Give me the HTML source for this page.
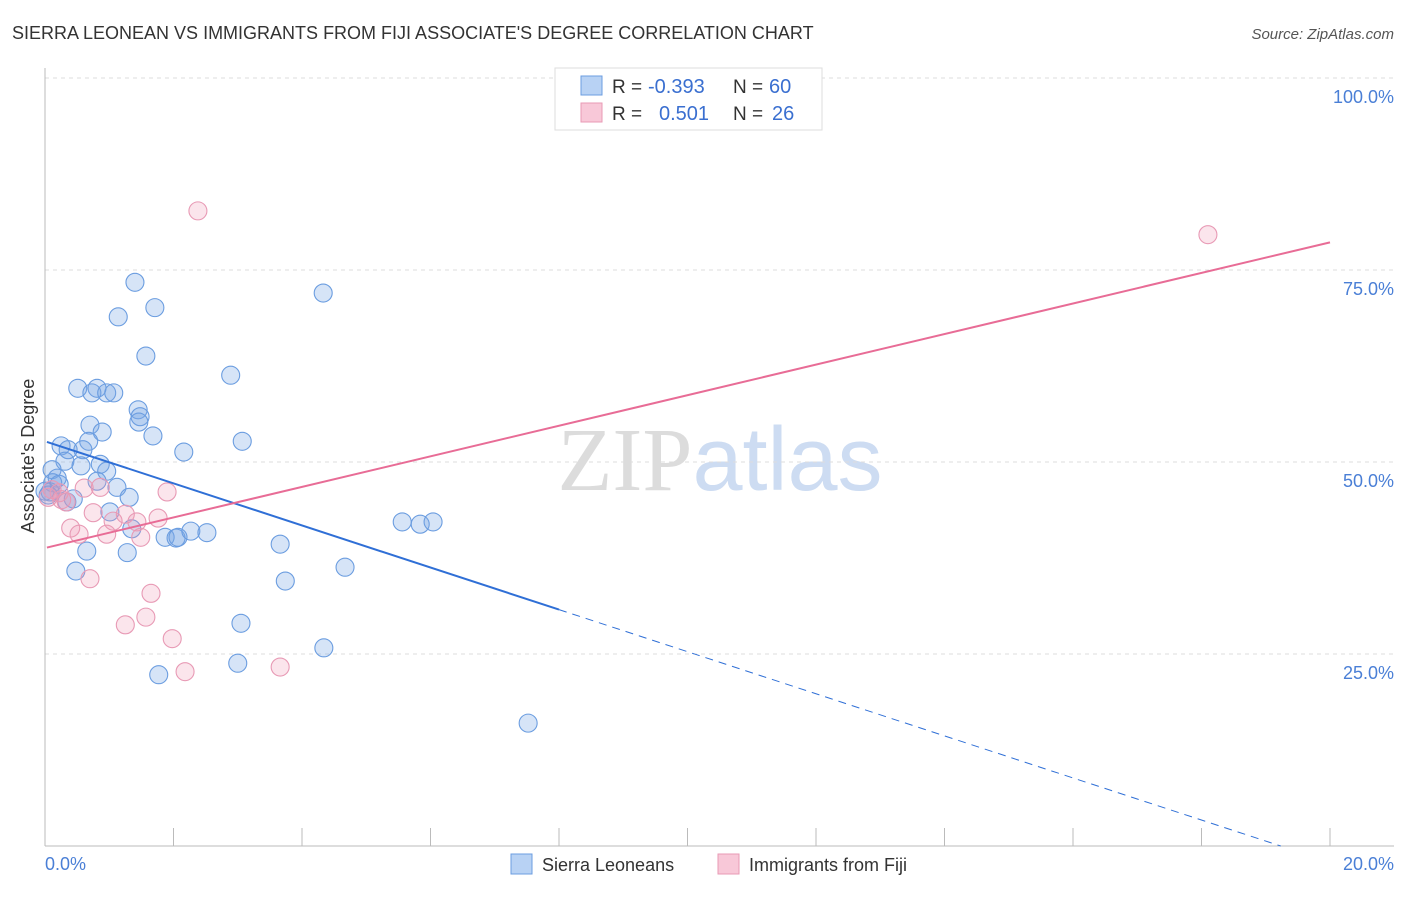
<!DOCTYPE html>
<html><head><meta charset="utf-8"><style>
body{margin:0;background:#fff;font-family:"Liberation Sans",sans-serif;}
svg text{font-family:"Liberation Sans",sans-serif;}
</style></head><body>
<svg id="chart" width="1406" height="892" xmlns="http://www.w3.org/2000/svg">
<text x="12" y="39" font-size="18" fill="#333">SIERRA LEONEAN VS IMMIGRANTS FROM FIJI ASSOCIATE'S DEGREE CORRELATION CHART</text>
<text x="1394" y="39" font-size="15" fill="#555" text-anchor="end" font-style="italic">Source: ZipAtlas.com</text>
<text x="720" y="490" font-size="90" text-anchor="middle"><tspan fill="#dcdcdc" font-family="Liberation Serif">ZIP</tspan><tspan fill="#cddcf2">atlas</tspan></text>
<g id="grid"></g>
<g id="axes"></g>
<g id="pts"></g>
<g id="lines"></g>
<text transform="translate(34,456) rotate(-90)" font-size="18" fill="#333" text-anchor="middle">Associate's Degree</text>
<text x="45" y="870" font-size="18" fill="#4a7fd6">0.0%</text>
<text x="1394" y="870" font-size="18" fill="#4a7fd6" text-anchor="end">20.0%</text>
<g>
<rect x="555" y="68" width="267" height="62" fill="#fff" stroke="#ddd"/>
<rect x="581" y="76" width="21" height="19" fill="#b8d2f4" stroke="#6b9de0"/>
<rect x="581" y="103" width="21" height="19" fill="#f8c8d8" stroke="#e89ab5"/>
<text x="612" y="93" font-size="19" fill="#333">R =</text>
<text x="648" y="93" font-size="20" fill="#3a6fd0">-0.393</text>
<text x="733" y="93" font-size="19" fill="#333">N =</text>
<text x="769" y="93" font-size="20" fill="#3a6fd0">60</text>
<text x="612" y="120" font-size="19" fill="#333">R =</text>
<text x="659" y="120" font-size="20" fill="#3a6fd0">0.501</text>
<text x="733" y="120" font-size="19" fill="#333">N =</text>
<text x="772" y="120" font-size="20" fill="#3a6fd0">26</text>
</g>
<g>
<rect x="511" y="854" width="21" height="20" fill="#b8d2f4" stroke="#6b9de0"/>
<text x="542" y="871" font-size="18" fill="#333">Sierra Leoneans</text>
<rect x="718" y="854" width="21" height="20" fill="#f8c8d8" stroke="#e89ab5"/>
<text x="749" y="871" font-size="18" fill="#333">Immigrants from Fiji</text>
</g>
</svg>
<script>
const yTicks=[25,50,75,100];
const yTickLabels=["25.0%","50.0%","75.0%","100.0%"];
const xTicks=[0,2,4,6,8,10,12,14,16,18,20];
const blueX=[1.40,1.71,1.14,4.33,1.57,2.89,0.51,0.81,0.73,0.96,1.07,1.45,1.48,1.46,0.70,0.89,1.68,3.07,0.25,0.68,0.36,0.59,2.16,0.31,0.56,0.86,0.96,0.11,0.19,0.81,1.12,0.12,0.22,0.08,1.31,0.44,0.34,1.01,1.35,1.87,2.04,2.07,2.27,2.52,3.66,0.65,1.28,0.48,3.74,4.67,5.56,5.84,6.04,3.05,4.34,3.00,1.77,7.52,0.0,0.05];
const blueY=[73.4,70.1,68.9,72.0,63.8,61.3,59.6,59.6,59.0,59.0,59.0,56.8,55.9,55.2,54.8,53.9,53.4,52.7,52.1,52.7,51.6,51.6,51.3,50.1,49.5,49.7,48.8,49.0,47.9,47.5,46.7,47.3,47.1,46.1,45.4,45.2,44.8,43.5,41.3,40.2,40.1,40.2,41.0,40.8,39.3,38.4,38.2,35.8,34.5,36.3,42.2,41.9,42.2,29.0,25.8,23.8,22.3,16.0,46.2,45.7];
const pinkX=[2.38,18.10,0.11,0.26,0.33,0.61,0.86,1.90,0.75,1.06,1.25,1.43,1.76,0.40,0.53,0.96,1.49,0.70,1.65,1.57,1.25,1.98,2.18,3.66,0.22,0.05];
const pinkY=[82.7,79.6,46.4,45.1,44.8,46.6,46.7,46.1,43.4,42.3,43.2,42.2,42.7,41.4,40.6,40.6,40.2,34.8,32.9,29.8,28.8,27.0,22.7,23.3,46.0,45.4];
const blueTrend=[52.7,-2.74]; const pinkTrend=[38.8,1.99];
const X=v=>45+v*64.25, Y=v=>846-v*7.68;
const NS="http://www.w3.org/2000/svg";
function mk(tag,attrs,parent){const e=document.createElementNS(NS,tag);for(const k in attrs)e.setAttribute(k,attrs[k]);document.getElementById(parent).appendChild(e);return e;}
yTicks.forEach((t,i)=>{
 const l=mk('line',{x1:45,x2:1394,y1:Y(t),y2:Y(t),stroke:'#ddd','stroke-dasharray':'4,4'},'grid');
 
 
 const tx=mk('text',{x:1394,y:Y(t)+25,'font-size':18,fill:'#4a7fd6','text-anchor':'end'},'grid');
 tx.textContent=yTickLabels[i];
 
 
});
const ax=mk('line',{x1:45,x2:1394,y1:846,y2:846,stroke:'#bbb'},'axes');


const ay=mk('line',{x1:45,x2:45,y1:68,y2:846,stroke:'#bbb'},'axes');


xTicks.forEach(t=>{const l=mk('line',{x1:X(t),x2:X(t),y1:828,y2:846,stroke:'#bbb'},'axes');
 
 });
blueX.forEach((x,i)=>{const c=mk('circle',{cx:X(x),cy:Y(blueY[i]),r:9,fill:'rgba(120,165,230,0.3)',stroke:'#6b9de0','stroke-width':1.1},'pts');
 
 });
pinkX.forEach((x,i)=>{const c=mk('circle',{cx:X(x),cy:Y(pinkY[i]),r:9,fill:'rgba(240,150,180,0.25)',stroke:'#e89ab5','stroke-width':1.1},'pts');
 
 });
const bf=x=>blueTrend[0]+blueTrend[1]*x, pf=x=>pinkTrend[0]+pinkTrend[1]*x;
const b1=mk('line',{x1:X(0.03),y1:Y(bf(0.03)),x2:X(8),y2:Y(bf(8)),stroke:'#2f6fd6','stroke-width':2},'lines');


const xe=blueTrend[0]/-blueTrend[1];
const b2=mk('line',{x1:X(8),y1:Y(bf(8)),x2:X(xe),y2:Y(bf(xe)),stroke:'#2f6fd6','stroke-width':1,'stroke-dasharray':'8,6'},'lines');


const p1=mk('line',{x1:X(0.03),y1:Y(pf(0.03)),x2:X(20),y2:Y(pf(20)),stroke:'#e86c96','stroke-width':2},'lines');


</script>
</body></html>
